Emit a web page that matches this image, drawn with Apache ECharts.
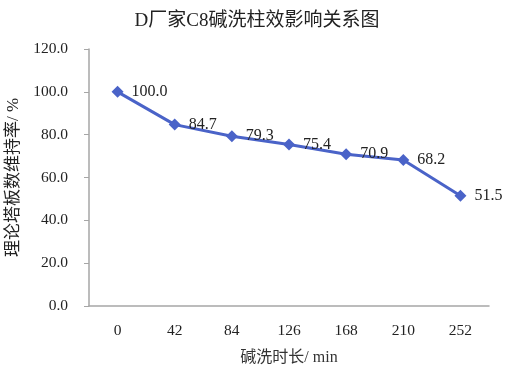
<!DOCTYPE html>
<html><head><meta charset="utf-8">
<script src="https://cdn.jsdelivr.net/npm/echarts@6/dist/echarts.min.js"></script>
<style>html,body{margin:0;padding:0;background:#fff}#c{width:514px;height:375px}</style>
</head><body><div id="c"></div>
<script>
var categories = ['0','42','84','126','168','210','252'];
var retention = [100.0, 84.7, 79.3, 75.4, 70.9, 68.2, 51.5];
var titleText = 'D厂家C8碱洗柱效影响关系图';
var xName = '碱洗时长/ min';
var yName = '理论塔板数维持率/ %';
var serif = '"Liberation Serif","DejaVu Serif","Noto Sans CJK SC",serif';
var chart = echarts.init(document.getElementById('c'));
chart.setOption({
  animation: false,
  title: {text: titleText, left: 'center', top: 7,
    textStyle: {fontFamily: serif, fontSize: 19, fontWeight: 'normal', color: '#222'}},
  grid: {left: 89, right: 25, top: 49, bottom: 69, containLabel: false, outerBoundsMode: 'none'},
  xAxis: {type: 'category', data: categories, boundaryGap: true,
    name: xName, nameLocation: 'middle', nameGap: 44,
    nameTextStyle: {fontFamily: serif, fontSize: 16, color: '#333'},
    axisLine: {lineStyle: {color: '#a6a6a6', width: 1.5}},
    axisTick: {show: false},
    axisLabel: {fontFamily: serif, fontSize: 15.5, color: '#222', margin: 17}},
  yAxis: {type: 'value', min: 0, max: 120, interval: 20,
    name: yName, nameLocation: 'middle', nameGap: 61,
    nameTextStyle: {fontFamily: serif, fontSize: 17, color: '#222'},
    axisLine: {show: true, lineStyle: {color: '#a6a6a6', width: 1.5}},
    axisTick: {show: true, length: 5, lineStyle: {color: '#a6a6a6'}},
    splitLine: {show: false},
    axisLabel: {fontFamily: serif, fontSize: 15.5, color: '#222', margin: 21,
      formatter: function(v){return v.toFixed(1);}}},
  series: [{type: 'line', data: retention,
    symbol: 'diamond', symbolSize: 12,
    lineStyle: {color: '#4a63c8', width: 3},
    itemStyle: {color: '#4a63c8'},
    label: {show: true, position: 'right', distance: 8,
      fontFamily: serif, fontSize: 16, color: '#222',
      formatter: function(p){return p.value.toFixed(1);}}}]
});
</script></body></html>
